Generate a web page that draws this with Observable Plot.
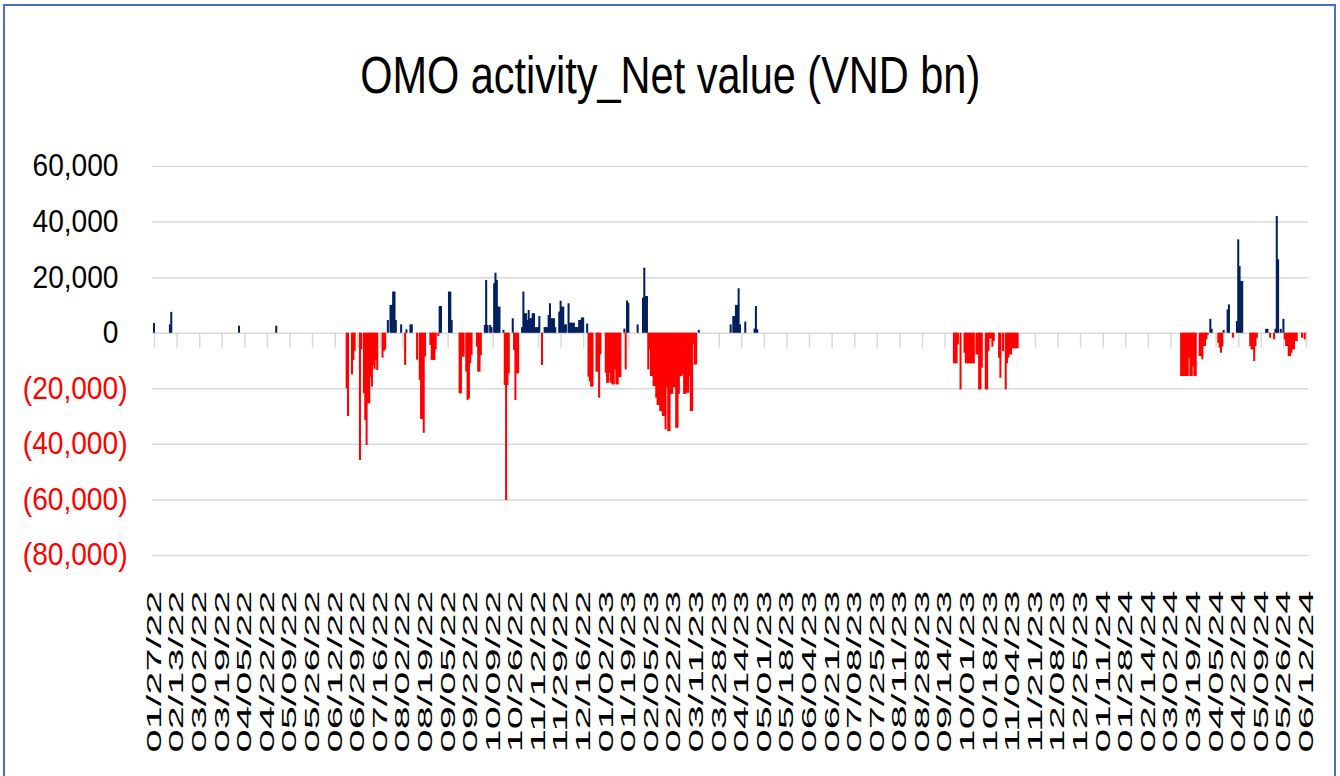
<!DOCTYPE html>
<html><head><meta charset="utf-8">
<script src="https://cdn.jsdelivr.net/npm/d3@7"></script>
<script src="https://cdn.jsdelivr.net/npm/@observablehq/plot@0.6"></script>
<style>
html,body{margin:0;padding:0;background:#fff;}
body{width:1340px;height:776px;overflow:hidden;position:relative;font-family:"Liberation Sans",Arial,sans-serif;}
#frame{position:absolute;left:3px;top:4px;width:1333px;height:820px;border:2px solid #4472c4;box-sizing:border-box;}
#title{position:absolute;left:0;top:50px;width:1340px;text-align:center;font-family:"Liberation Sans Narrow","Liberation Sans",Arial,sans-serif;font-size:51px;line-height:51px;color:#000;white-space:nowrap;}
#title span{display:inline-block;transform-origin:50% 50%;}
#chart{position:absolute;left:0;top:130px;}
</style></head><body>
<div id="frame"></div>
<div id="title"><span id="titleText">OMO activity_Net value (VND bn)</span></div>
<div id="chart"></div>
<script>
// ---- tick labels (every 17 days) ----
const xTickLabels = ["01/27/22","02/13/22","03/02/22","03/19/22","04/05/22","04/22/22","05/09/22","05/26/22","06/12/22","06/29/22","07/16/22","08/02/22","08/19/22","09/05/22","09/22/22","10/09/22","10/26/22","11/12/22","11/29/22","12/16/22","01/02/23","01/19/23","02/05/23","02/22/23","03/11/23","03/28/23","04/14/23","05/01/23","05/18/23","06/04/23","06/21/23","07/08/23","07/25/23","08/11/23","08/28/23","09/14/23","10/01/23","10/18/23","11/04/23","11/21/23","12/08/23","12/25/23","01/11/24","01/28/24","02/14/24","03/02/24","03/19/24","04/05/24","04/22/24","05/09/24","05/26/24","06/12/24"];
const yTicks = [60000, 40000, 20000, 0, -20000, -40000, -60000, -80000];

// ---- net OMO value, VND bn ----
const dates2022 = ["2022-01-27","2022-02-08","2022-02-09","2022-04-01","2022-04-29",
"2022-06-21","2022-06-22","2022-06-25","2022-06-26","2022-06-27","2022-07-01","2022-07-02","2022-07-04","2022-07-05","2022-07-06","2022-07-07","2022-07-08","2022-07-09","2022-07-10","2022-07-11","2022-07-12","2022-07-13","2022-07-14","2022-07-18","2022-07-19","2022-07-20",
"2022-07-22","2022-07-24","2022-07-25","2022-07-26","2022-07-27","2022-07-28","2022-08-01","2022-08-04","2022-08-05","2022-08-08","2022-08-09",
"2022-08-13","2022-08-15","2022-08-16","2022-08-17","2022-08-18","2022-08-19","2022-08-23","2022-08-24","2022-08-25","2022-08-26","2022-08-27","2022-08-29","2022-08-30","2022-08-31",
"2022-09-06","2022-09-07","2022-09-08","2022-09-14","2022-09-15","2022-09-16","2022-09-17","2022-09-19","2022-09-20","2022-09-21","2022-09-22","2022-09-23","2022-09-27","2022-09-28","2022-09-29","2022-09-30",
"2022-10-03","2022-10-04","2022-10-05","2022-10-07","2022-10-08","2022-10-10","2022-10-11","2022-10-12","2022-10-13","2022-10-14","2022-10-17","2022-10-18","2022-10-19","2022-10-20","2022-10-21","2022-10-24","2022-10-25","2022-10-26","2022-10-27","2022-10-28","2022-10-31",
"2022-11-01","2022-11-02","2022-11-03","2022-11-04","2022-11-05","2022-11-06","2022-11-07","2022-11-08","2022-11-09","2022-11-10","2022-11-11","2022-11-12","2022-11-13","2022-11-15","2022-11-17","2022-11-18","2022-11-19","2022-11-20","2022-11-21","2022-11-22","2022-11-23","2022-11-24","2022-11-25","2022-11-28","2022-11-29","2022-11-30",
"2022-12-01","2022-12-02","2022-12-03","2022-12-05","2022-12-06","2022-12-07","2022-12-08","2022-12-09","2022-12-10","2022-12-11","2022-12-12","2022-12-13","2022-12-14","2022-12-15","2022-12-16","2022-12-19","2022-12-20","2022-12-21","2022-12-22","2022-12-23","2022-12-26","2022-12-27","2022-12-28","2022-12-29"];
const values2022 = [3500,3000,7500,2500,2500,
-20000,-30000,-15000,-9800,-6500,-45800,-6000,-21800,-31400,-40400,-25400,-25400,-15800,-19400,-11600,-13000,-9800,-13400,-9000,-6500,-6000,
4600,10000,10000,14800,14800,4600,3000,-11600,1200,3000,3000,
-9700,-17000,-31000,-31000,-36000,-8600,-4400,-9800,-9800,-9800,-6000,-1200,9600,9600,
14800,14800,4600,-21800,-21800,-8600,-8600,-14000,-24200,-23600,-11000,-8000,-5000,-14000,-14000,-8000,
2800,19000,2800,2800,2000,17800,21600,19000,9400,9400,1000,-18800,-60200,-18800,-14600,5200,-6200,-24200,-14600,-14600,2000,
14800,7000,7000,4600,8200,5200,5200,7000,7000,2000,2000,2000,6000,-11600,2000,2000,2000,6400,10600,5200,5200,5200,2000,7600,11500,9400,
9400,3000,3000,10600,3600,3600,3600,3600,2000,2000,2000,4600,4600,5500,5500,3300,-15800,-17600,-19400,-19400,-14000,-14000,-23400,-7800];

const dates2023 = ["2023-01-02","2023-01-03","2023-01-04","2023-01-05","2023-01-06","2023-01-07","2023-01-08","2023-01-09","2023-01-10","2023-01-11","2023-01-12","2023-01-13","2023-01-16","2023-01-17","2023-01-18","2023-01-19","2023-01-26","2023-01-30","2023-01-31",
"2023-02-01","2023-02-02","2023-02-03","2023-02-04","2023-02-05","2023-02-06","2023-02-07","2023-02-08","2023-02-09","2023-02-10","2023-02-11","2023-02-12","2023-02-13","2023-02-14","2023-02-15","2023-02-16","2023-02-17","2023-02-18","2023-02-19","2023-02-20","2023-02-21","2023-02-22","2023-02-23","2023-02-24","2023-02-25","2023-02-26","2023-02-27","2023-02-28",
"2023-03-01","2023-03-02","2023-03-03","2023-03-04","2023-03-05","2023-03-06","2023-03-07","2023-03-08","2023-03-09","2023-03-10","2023-03-11","2023-03-13",
"2023-04-06","2023-04-08","2023-04-09","2023-04-10","2023-04-11","2023-04-12","2023-04-13","2023-04-17","2023-04-24","2023-04-25","2023-04-26",
"2023-09-21","2023-09-22","2023-09-23","2023-09-24","2023-09-26","2023-09-29","2023-09-30","2023-10-01","2023-10-02","2023-10-03","2023-10-04","2023-10-05","2023-10-06","2023-10-08","2023-10-09","2023-10-10","2023-10-11","2023-10-12","2023-10-15","2023-10-16","2023-10-17","2023-10-18","2023-10-19","2023-10-20","2023-10-21","2023-10-25","2023-10-26","2023-10-28","2023-10-30","2023-10-31",
"2023-11-01","2023-11-02","2023-11-03","2023-11-04","2023-11-05","2023-11-06","2023-11-07","2023-11-08"];
const values2023 = [-14400,-18000,-18000,-14400,-18000,-18600,-18600,-13000,-18600,-18600,-16000,-16000,1500,-13200,11600,10800,3000,12600,23400,
13200,13200,-13200,-6000,-15600,-15600,-19200,-19200,-23400,-26000,-26000,-28200,-28200,-30000,-30000,-34800,-19600,-35400,-35400,-22000,-22000,-19600,-19600,-34200,-34200,-22000,-15600,-15600,
-15000,-22000,-22000,-21600,-21600,-15600,-28200,-28200,-4000,-11400,-11400,1000,
3000,6000,6000,10000,10000,16000,3000,4000,1500,9600,1200,
-11000,-11000,-11000,-4200,-20400,-7200,-11000,-11000,-11000,-11000,-11000,-11000,-11000,-7800,-7800,-20400,-20400,-12600,-20400,-20400,-6600,-2000,-2000,-5000,-3000,-9000,-16200,-6600,-20400,-11000,
-9000,-7800,-7800,-5600,-5600,-5600,-5600,-5600];

const dates2024 = ["2024-03-10","2024-03-11","2024-03-12","2024-03-13","2024-03-14","2024-03-15","2024-03-16","2024-03-17","2024-03-18","2024-03-19","2024-03-20","2024-03-21","2024-03-24","2024-03-25","2024-03-26","2024-03-27","2024-03-28","2024-03-29","2024-03-30",
"2024-04-01","2024-04-02","2024-04-07","2024-04-08","2024-04-09","2024-04-10","2024-04-11","2024-04-14","2024-04-15","2024-04-18","2024-04-21","2024-04-22","2024-04-23","2024-04-24","2024-04-25",
"2024-05-01","2024-05-02","2024-05-03","2024-05-04","2024-05-05","2024-05-06","2024-05-13","2024-05-14","2024-05-16","2024-05-19","2024-05-20","2024-05-21","2024-05-22","2024-05-24","2024-05-26","2024-05-27","2024-05-28","2024-05-29","2024-05-30","2024-05-31",
"2024-06-01","2024-06-02","2024-06-03","2024-06-04","2024-06-05","2024-06-09","2024-06-11"];
const values2024 = [-15600,-15600,-15600,-15600,-15600,-15600,-9000,-15600,-15600,-12000,-15600,-15600,-8400,-8400,-9600,-4800,-4800,-2400,-800,
5000,1400,-3600,-5400,-7200,-5000,1000,8400,10200,-1800,4200,33600,24000,18600,18600,
-4800,-6000,-6000,-10200,-4800,-1800,1400,1400,-1800,-2400,1400,42000,26400,1400,5000,-2400,-4800,-4800,-8400,-8400,
-7200,-6000,-6000,-3000,-3000,-1800,-2400];

// ---- build table ----
const parseDay = d3.utcParse("%Y-%m-%d");
const rows = [];
[[dates2022, values2022], [dates2023, values2023], [dates2024, values2024]].forEach(([ds, vs]) => {
  ds.forEach((s, i) => rows.push({date: parseDay(s), value: vs[i]}));
});
const positive = rows.filter(d => d.value >= 0);
const negative = rows.filter(d => d.value < 0);

const parseTick = d3.utcParse("%m/%d/%y");
const tickDates = xTickLabels.map(s => d3.utcHour.offset(parseTick(s), 12));
const fmtTick = d3.utcFormat("%m/%d/%y");
const fmtNum = d3.format(",");

const plot = Plot.plot({
  width: 1340,
  height: 646,
  marginLeft: 152,
  marginRight: 32,
  marginTop: 36,
  marginBottom: 221,
  style: {fontFamily: "Liberation Sans, Arial, sans-serif", background: "transparent", color: "#000"},
  x: {type: "utc", domain: [parseDay("2022-01-26"), parseDay("2024-06-14")]},
  y: {domain: [-80000, 60000]},
  marks: [
    Plot.gridY(yTicks.filter(d => d !== 0), {stroke: "#d9d9d9", strokeOpacity: 1, strokeWidth: 1.5}),
    Plot.ruleY([0], {stroke: "#d9d9d9", strokeWidth: 1.5}),
    Plot.ruleX(tickDates, {x: d => d, y1: 0, y2: -5400, stroke: "#d9d9d9", strokeWidth: 1.5}),
    Plot.rectY(positive, {x: "date", interval: d3.utcDay, y: "value", fill: "#002060", insetLeft: -0.35, insetRight: -0.35}),
    Plot.rectY(negative, {x: "date", interval: d3.utcDay, y: "value", fill: "#ff0000", insetLeft: -0.35, insetRight: -0.35}),
    Plot.axisY({ticks: yTicks.filter(d => d >= 0), tickFormat: d => fmtNum(d), tickSize: 0, tickPadding: 34, fontSize: 31, fill: "#000", label: null}),
    Plot.axisY({ticks: yTicks.filter(d => d < 0), tickFormat: d => "(" + fmtNum(-d) + ")", tickSize: 0, tickPadding: 25, fontSize: 31, fill: "#ff0000", label: null}),
    Plot.axisX({ticks: tickDates, tickFormat: d => fmtTick(d), tickRotate: -90, tickSize: 0, tickPadding: 35, fontSize: 20, fill: "#000", label: null})
  ]
});
document.getElementById("chart").appendChild(plot);

// stretch the rotated date labels along their reading direction, as in the picture
plot.querySelectorAll('g[aria-label="x-axis tick label"] text').forEach(t => {
  t.setAttribute("textLength", 162);
  t.setAttribute("lengthAdjust", "spacingAndGlyphs");
});

// narrow y labels: "60,000" is about 86px wide in the picture
const yTexts = [...plot.querySelectorAll('g[aria-label="y-axis tick label"] text')];
const ref = yTexts.find(t => t.textContent === "60,000");
if (ref) {
  const k = 86 / ref.getComputedTextLength();
  yTexts.forEach(t => {
    const L = t.getComputedTextLength();
    t.setAttribute("textLength", L * k);
    t.setAttribute("lengthAdjust", "spacingAndGlyphs");
  });
}

// narrow title
const tt = document.getElementById("titleText");
const w = tt.getBoundingClientRect().width;
tt.style.transform = `scaleX(${620 / w})`;
</script>
</body></html>
